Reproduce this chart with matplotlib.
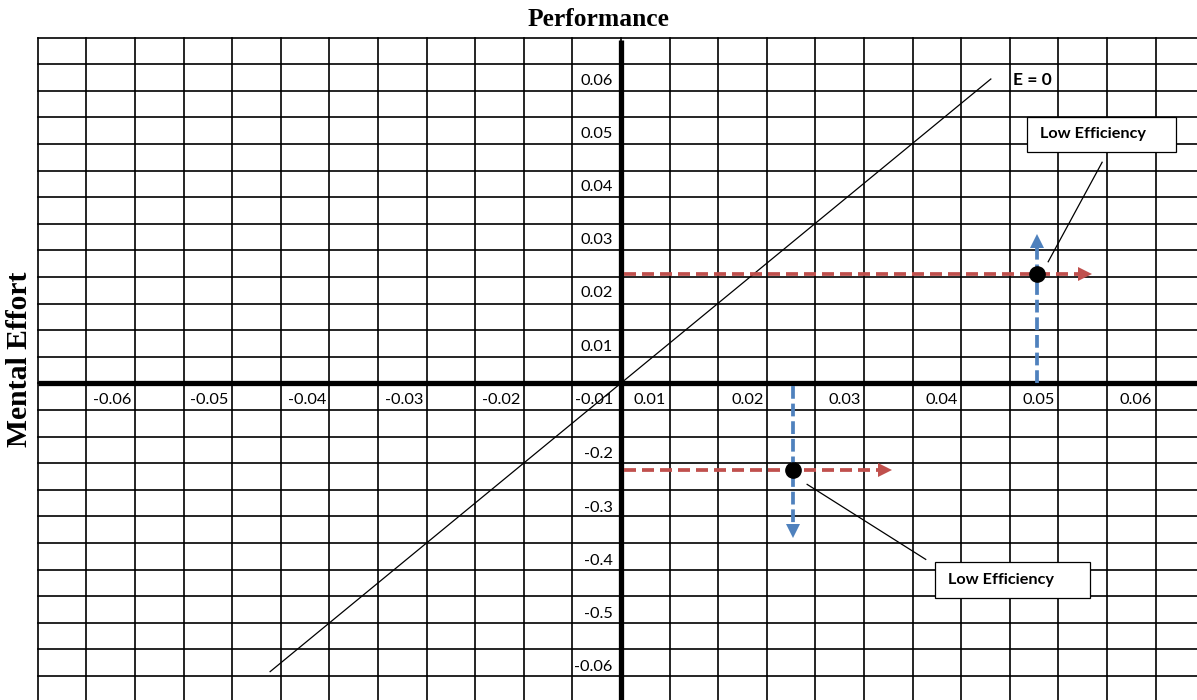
import matplotlib
matplotlib.use("Agg")
import matplotlib.pyplot as plt
from matplotlib.patches import Rectangle

# grid is drawn in "cell" units: one column / one row of the table = 1 unit,
# origin at the crossing of the two thick axes
x_labels_left = ["-0.06", "-0.05", "-0.04", "-0.03", "-0.02", "-0.01"]
x_labels_right = ["0.01", "0.02", "0.03", "0.04", "0.05", "0.06"]
y_labels_top = ["0.06", "0.05", "0.04", "0.03", "0.02", "0.01"]
y_labels_bottom = ["-0.2", "-0.3", "-0.4", "-0.5", "-0.06"]

# E = 0 reference line (end points)
e0_x = [-7.22, 7.61]
e0_y = [-10.84, 11.44]

# the two "low efficiency" points
pt_x = [8.55, 3.53]
pt_y = [4.11, -3.26]
perf_arrow_end = [9.69, 5.57]     # red dashed arrows (along performance)
effort_arrow_end = [5.61, -5.79]  # blue dashed arrows (along mental effort)

# callouts: leader line start/end and box (x0, y0, w, h)
leader_x = [[8.79, 9.90], [3.83, 6.27]]
leader_y = [[4.57, 8.31], [-3.80, -6.62]]
callout_boxes = [(8.35, 8.71, 3.08, 1.31), (6.46, -8.06, 3.18, 1.33)]
callout_text = "Low Efficiency"

RED = "#C0504D"
BLUE = "#4F81BD"

W, H = 1197, 700
COL, ROW = 48.6, 26.6
OX, OY = 621, 383.3  # origin in pixels (from top-left)

fig = plt.figure(figsize=(W / 100, H / 100), dpi=100)
ax = fig.add_axes([0, 0, 1, 1])
ax.set_xlim(-OX / COL, (W - OX) / COL)
ax.set_ylim(-(H - OY) / ROW, OY / ROW)
ax.axis("off")

xmin, xmax = ax.get_xlim()
ymin, ymax = ax.get_ylim()

# table grid
for i in range(-12, 12):
    ax.plot([i, i], [ymin, 13], color="black", lw=1.2, zorder=1)
for j in range(-12, 14):
    ax.plot([-12, xmax], [j, j], color="black", lw=1.2, zorder=1)

# thick axes
ax.plot([-12, xmax], [0, 0], color="black", lw=3.8, zorder=2, solid_capstyle="butt")
ax.plot([0, 0], [ymin, 12.9], color="black", lw=3.8, zorder=2, solid_capstyle="butt")

tick_font = dict(family="Lato", fontsize=11.8, color="black", zorder=3)

# x labels sit in the row just below the axis, right aligned in their cell
for k, lab in enumerate(reversed(x_labels_left)):
    cell_right = -2 * k
    pad = 0.16 if k == 0 else 0.07
    ax.text(cell_right - pad, -0.62, lab, ha="right", va="center", **tick_font)
for k, lab in enumerate(x_labels_right):
    cell_right = 2 * k + 1
    ax.text(cell_right - 0.07, -0.62, lab, ha="right", va="center", **tick_font)

# y labels in the column just left of the vertical axis
for k, lab in enumerate(y_labels_top):
    ax.text(-0.17, 11 - 2 * k + 0.38, lab, ha="right", va="center", **tick_font)
for k, lab in enumerate(y_labels_bottom):
    ax.text(-0.17, -3 - 2 * k + 0.33, lab, ha="right", va="center", **tick_font)

# E = 0 line
ax.plot(e0_x, e0_y, color="black", lw=0.9, zorder=4)
ax.text(8.07, 11.4, "E = 0", family="Lato", fontweight="bold", fontsize=12.5,
        ha="left", va="center", zorder=4)

# dashed arrows with solid heads, then the points
head_ms = 9.5
half_px = head_ms * 100 / 72 / 2
hx = half_px / COL   # half head length in cells (horizontal)
hy = half_px / ROW   # half head length in cells (vertical)
for px, py, xe, ye in zip(pt_x, pt_y, perf_arrow_end, effort_arrow_end):
    ax.plot([0.06, xe - hx], [py, py], color=RED, lw=2.7,
            linestyle=(0, (3.2, 1.6)), zorder=5)
    ax.plot(xe - hx, py, marker=">", ms=head_ms, color=RED, mew=0, zorder=5)

    if ye > 0:
        ax.plot([px, px], [0.0, ye - hy], color=BLUE, lw=2.7,
                linestyle=(0, (3.4, 1.3)), zorder=5)
        ax.plot(px, ye - hy, marker="^", ms=head_ms, color=BLUE, mew=0, zorder=5)
    else:
        ax.plot([px, px], [-0.12, ye + hy], color=BLUE, lw=2.7,
                linestyle=(0, (3.4, 1.3)), zorder=5)
        ax.plot(px, ye + hy, marker="v", ms=head_ms, color=BLUE, mew=0, zorder=5)
ax.plot(pt_x, pt_y, "o", color="black", ms=11, zorder=6)

# callouts
for lx, ly, (bx, by, bw, bh) in zip(leader_x, leader_y, callout_boxes):
    ax.plot(lx, ly, color="black", lw=0.9, zorder=6)
    ax.add_patch(Rectangle((bx, by), bw, bh, facecolor="white", edgecolor="black",
                           lw=0.9, zorder=7))
    ax.text(bx + 0.27, by + bh / 2, callout_text, family="Lato", fontweight="bold",
            fontsize=11.7, ha="left", va="center", zorder=8)

fig.text(598 / W, 1 - 20 / H, "Performance", family="Liberation Serif",
         fontweight="bold", fontsize=18.4, ha="center", va="center")
fig.text(20 / W, 1 - 359 / H, "Mental Effort", family="Liberation Serif",
         fontweight="bold", fontsize=21.3, rotation=90, ha="center", va="center")

fig.savefig("out.png", dpi=100)
